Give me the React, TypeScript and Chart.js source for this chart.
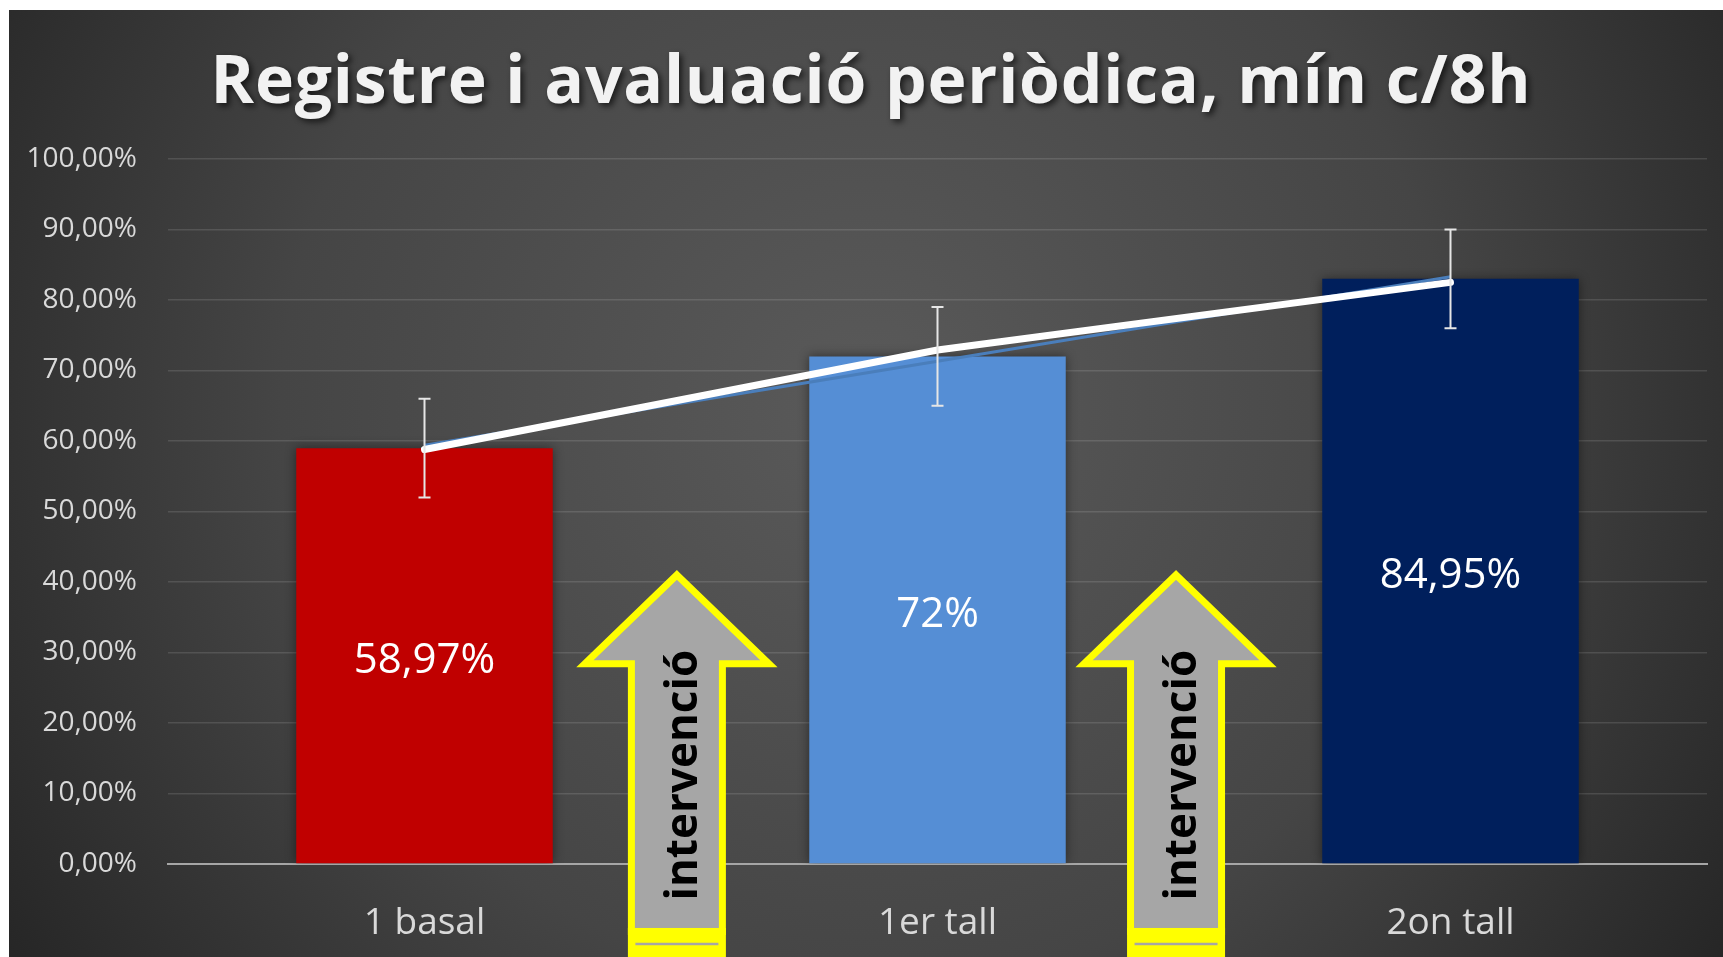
import { useEffect, useRef } from 'react';
import { Chart, registerables } from 'chart.js';

Chart.register(...registerables);

const chartTitle = 'Registre i avaluació periòdica, mín c/8h';
const categories = ['1 basal', '1er tall', '2on tall'];
const barValues = [58.97, 72, 83];
const barLabels = ['58,97%', '72%', '84,95%'];
const barColors = ['#C00000', '#558ED5', '#001F5C'];
const errorLow = [52, 65, 76];
const errorHigh = [66, 79, 90];
const trendValues = [59.4, 71.3, 83.3];
const lineValues = [58.8, 72.9, 82.5];
const yTickLabels = ['0,00%', '10,00%', '20,00%', '30,00%', '40,00%', '50,00%', '60,00%', '70,00%', '80,00%', '90,00%', '100,00%'];
const arrowText = 'intervenció';
const arrowPositions = [0.492, 1.465];
const arrowTipValue = 41.0;
const arrowWingValue = 28.4;
const arrowBaseValue = -9.57;
const arrowTextCenterValue = 12.6;

const W = 1714;
const H = 947;

const bgPlugin = {
  id: 'bg',
  beforeDraw(chart: any) {
    const { ctx, width, height } = chart;
    ctx.save();
    const g = ctx.createRadialGradient(width * 0.5, height * 0.42, 0, width * 0.5, height * 0.42, width * 0.62);
    g.addColorStop(0, '#5a5a5a');
    g.addColorStop(0.55, '#454545');
    g.addColorStop(1, '#232323');
    ctx.fillStyle = g;
    ctx.fillRect(0, 0, width, height);
    // title
    ctx.font = "bold 66px 'Open Sans'";
    (ctx as any).letterSpacing = '0.8px';
    ctx.textAlign = 'center';
    ctx.textBaseline = 'alphabetic';
    ctx.shadowColor = 'rgba(0,0,0,0.65)';
    ctx.shadowBlur = 6;
    ctx.shadowOffsetX = 3;
    ctx.shadowOffsetY = 3;
    ctx.fillStyle = '#F2F2F2';
    ctx.fillText(chartTitle, 862, 93);
    (ctx as any).letterSpacing = '0px';
    ctx.restore();
  },
};

const barShadowPlugin = {
  id: 'barShadow',
  beforeDatasetDraw(chart: any, args: any) {
    if (args.index !== 0) return;
    const ctx = chart.ctx;
    ctx.save();
    ctx.shadowColor = 'rgba(0,0,0,0.45)';
    ctx.shadowBlur = 10;
  },
  afterDatasetDraw(chart: any, args: any) {
    if (args.index !== 0) return;
    chart.ctx.restore();
  },
};

const overlayPlugin = {
  id: 'overlay',
  afterDatasetsDraw(chart: any) {
    const { ctx } = chart;
    const ys = chart.scales.y;
    const meta = chart.getDatasetMeta(0);
    ctx.save();
    // data labels
    ctx.font = "42px 'Open Sans'";
    ctx.fillStyle = '#FFFFFF';
    ctx.textAlign = 'center';
    ctx.textBaseline = 'middle';
    meta.data.forEach((bar: any, i: number) => {
      const cy = (bar.y + bar.base) / 2 + 5;
      ctx.fillText(barLabels[i], bar.x, cy);
    });
    // error bars
    ctx.strokeStyle = '#E6E6E6';
    ctx.lineWidth = 2;
    meta.data.forEach((bar: any, i: number) => {
      const yt = ys.getPixelForValue(errorHigh[i]);
      const yb = ys.getPixelForValue(errorLow[i]);
      ctx.beginPath();
      ctx.moveTo(bar.x, yt);
      ctx.lineTo(bar.x, yb);
      ctx.moveTo(bar.x - 6, yt);
      ctx.lineTo(bar.x + 6, yt);
      ctx.moveTo(bar.x - 6, yb);
      ctx.lineTo(bar.x + 6, yb);
      ctx.stroke();
    });
    ctx.restore();
  },
  afterDraw(chart: any) {
    const { ctx, height } = chart;
    const xs = chart.scales.x;
    const ys = chart.scales.y;
    arrowPositions.forEach((pos) => {
      const cx = xs.getPixelForValue(pos);
      const tipY = ys.getPixelForValue(arrowTipValue);
      const wingY = ys.getPixelForValue(arrowWingValue);
      const baseY = ys.getPixelForValue(arrowBaseValue);
      const hw = 92;
      const hs = 45.5;
      ctx.save();
      ctx.beginPath();
      ctx.moveTo(cx, tipY);
      ctx.lineTo(cx + hw, wingY);
      ctx.lineTo(cx + hs, wingY);
      ctx.lineTo(cx + hs, baseY);
      ctx.lineTo(cx - hs, baseY);
      ctx.lineTo(cx - hs, wingY);
      ctx.lineTo(cx - hw, wingY);
      ctx.closePath();
      ctx.fillStyle = '#A6A6A6';
      ctx.fill();
      ctx.lineJoin = 'miter';
      ctx.miterLimit = 10;
      ctx.lineWidth = 7;
      ctx.strokeStyle = '#FFFF00';
      ctx.stroke();
      // lower band
      ctx.fillStyle = '#FFFF00';
      ctx.fillRect(cx - hs - 3.5, baseY - 3.5, 2 * hs + 7, height - baseY + 4);
      ctx.strokeStyle = '#A6A6A6';
      ctx.lineWidth = 2.5;
      ctx.beginPath();
      ctx.moveTo(cx - hs + 4, baseY + 12.5);
      ctx.lineTo(cx + hs - 4, baseY + 12.5);
      ctx.stroke();
      // text
      const ty = ys.getPixelForValue(arrowTextCenterValue);
      ctx.translate(cx + 20, ty);
      ctx.rotate(-Math.PI / 2);
      ctx.font = "bold 44px 'Open Sans'";
      ctx.fillStyle = '#000000';
      ctx.textAlign = 'center';
      ctx.textBaseline = 'alphabetic';
      ctx.fillText(arrowText, 0, 0);
      ctx.restore();
    });
  },
};

export default function App() {
  const ref = useRef<HTMLCanvasElement>(null);
  useEffect(() => {
    document.documentElement.style.overflow = 'hidden';
    const canvas = ref.current;
    if (!canvas) return;
    const chart = new Chart(canvas, {
      type: 'bar',
      data: {
        labels: categories,
        datasets: [
          {
            type: 'bar',
            data: barValues,
            backgroundColor: barColors,
            borderWidth: 0,
            barPercentage: 0.5,
            categoryPercentage: 1,
            order: 3,
          } as any,
          {
            type: 'line',
            data: trendValues,
            borderColor: '#4A7EBB',
            borderWidth: 3,
            pointRadius: 0,
            fill: false,
            tension: 0,
            order: 2,
          } as any,
          {
            type: 'line',
            data: lineValues,
            borderColor: '#FFFFFF',
            borderWidth: 7,
            borderCapStyle: 'round',
            borderJoinStyle: 'round',
            pointRadius: 0,
            fill: false,
            tension: 0,
            order: 1,
          } as any,
        ],
      },
      options: {
        animation: false,
        responsive: false,
        maintainAspectRatio: false,
        events: [],
        layout: { padding: { top: 149, right: 16, left: 0, bottom: 0 } },
        plugins: {
          legend: { display: false },
          tooltip: { enabled: false },
          title: { display: false },
        },
        scales: {
          x: {
            grid: { display: false, drawTicks: false },
            border: { display: true, color: '#A6A6A6', width: 2 },
            ticks: { color: '#D9D9D9', font: { family: 'Open Sans', size: 37 }, padding: 37 },
            afterFit: (s: any) => {
              s.height = 93;
            },
          },
          y: {
            min: 0,
            max: 100,
            ticks: {
              stepSize: 10,
              color: '#D9D9D9',
              font: { family: 'Open Sans', size: 28 },
              padding: 31,
              callback: (_v: any, i: number) => yTickLabels[i],
            },
            grid: { color: 'rgba(255,255,255,0.12)', lineWidth: 1.5, drawTicks: false },
            border: { display: false },
            afterFit: (s: any) => {
              s.width = 159;
            },
          },
        },
      } as any,
      plugins: [bgPlugin, barShadowPlugin, overlayPlugin],
    });
    return () => chart.destroy();
  }, []);
  return (
    <div style={{ position: 'fixed', left: 9, top: 10, width: W, height: H }}>
      <canvas ref={ref} width={W} height={H} style={{ width: W, height: H, display: 'block' }} />
    </div>
  );
}
